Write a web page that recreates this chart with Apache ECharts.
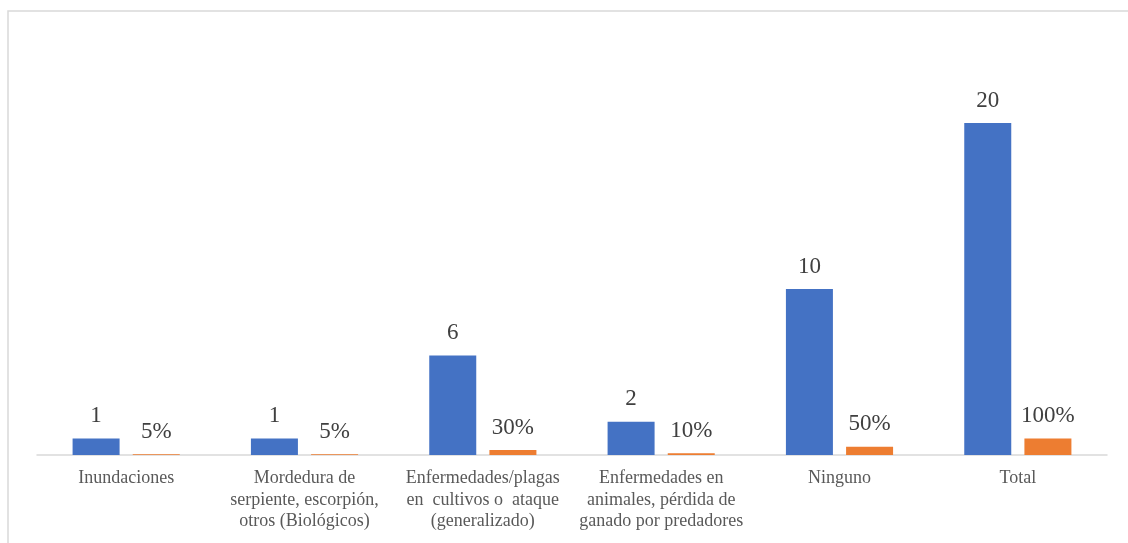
<!DOCTYPE html>
<html>
<head>
<meta charset="utf-8">
<script src="https://cdn.jsdelivr.net/npm/echarts@6/dist/echarts.min.js"></script>
<style>
  html, body { margin: 0; padding: 0; background: #fff; }
  #chart { width: 1128px; height: 543px; }
</style>
</head>
<body>
<div id="chart"></div>
<script>
// Categories of risk events
const categories = [
  'Inundaciones',
  'Mordedura de\nserpiente, escorpión,\notros (Biológicos)',
  'Enfermedades/plagas\nen  cultivos o  ataque\n(generalizado)',
  'Enfermedades en\nanimales, pérdida de\nganado por predadores',
  'Ninguno',
  'Total'
];
// Number of respondents
const counts = [1, 1, 6, 2, 10, 20];
// Share of respondents (fraction of total)
const shares = [0.05, 0.05, 0.30, 0.10, 0.50, 1.00];

const serif = '"Liberation Serif", "DejaVu Serif", serif';

const chart = echarts.init(document.getElementById('chart'));
chart.setOption({
  backgroundColor: '#ffffff',
  animation: false,
  graphic: [{
    type: 'rect',
    shape: { x: 8, y: 11, width: 1140, height: 560 },
    style: { fill: 'none', stroke: '#d9d9d9', lineWidth: 1.5 },
    silent: true
  }],
  grid: { left: 37, right: 21, top: 123, bottom: 88 },
  xAxis: {
    type: 'category',
    data: categories,
    axisLine: { lineStyle: { color: '#d9d9d9', width: 1.5 } },
    axisTick: { show: false },
    axisLabel: {
      interval: 0,
      margin: 13,
      fontFamily: serif,
      fontSize: 18,
      lineHeight: 21.5,
      color: '#595959'
    }
  },
  yAxis: {
    type: 'value',
    min: 0,
    max: 20,
    show: false,
    splitLine: { show: false }
  },
  series: [
    {
      name: 'Frecuencia',
      type: 'bar',
      data: counts,
      barWidth: 47,
      barGap: '28%',
      itemStyle: { color: '#4472C4' },
      label: {
        show: true,
        position: 'top',
        distance: 11,
        fontFamily: serif,
        fontSize: 23,
        color: '#404040'
      }
    },
    {
      name: 'Porcentaje',
      type: 'bar',
      data: shares,
      barWidth: 47,
      itemStyle: { color: '#ED7D31' },
      label: {
        show: true,
        position: 'top',
        distance: 11,
        fontFamily: serif,
        fontSize: 23,
        color: '#404040',
        formatter: p => Math.round(p.value * 100) + '%'
      }
    }
  ]
});
</script>
</body>
</html>
